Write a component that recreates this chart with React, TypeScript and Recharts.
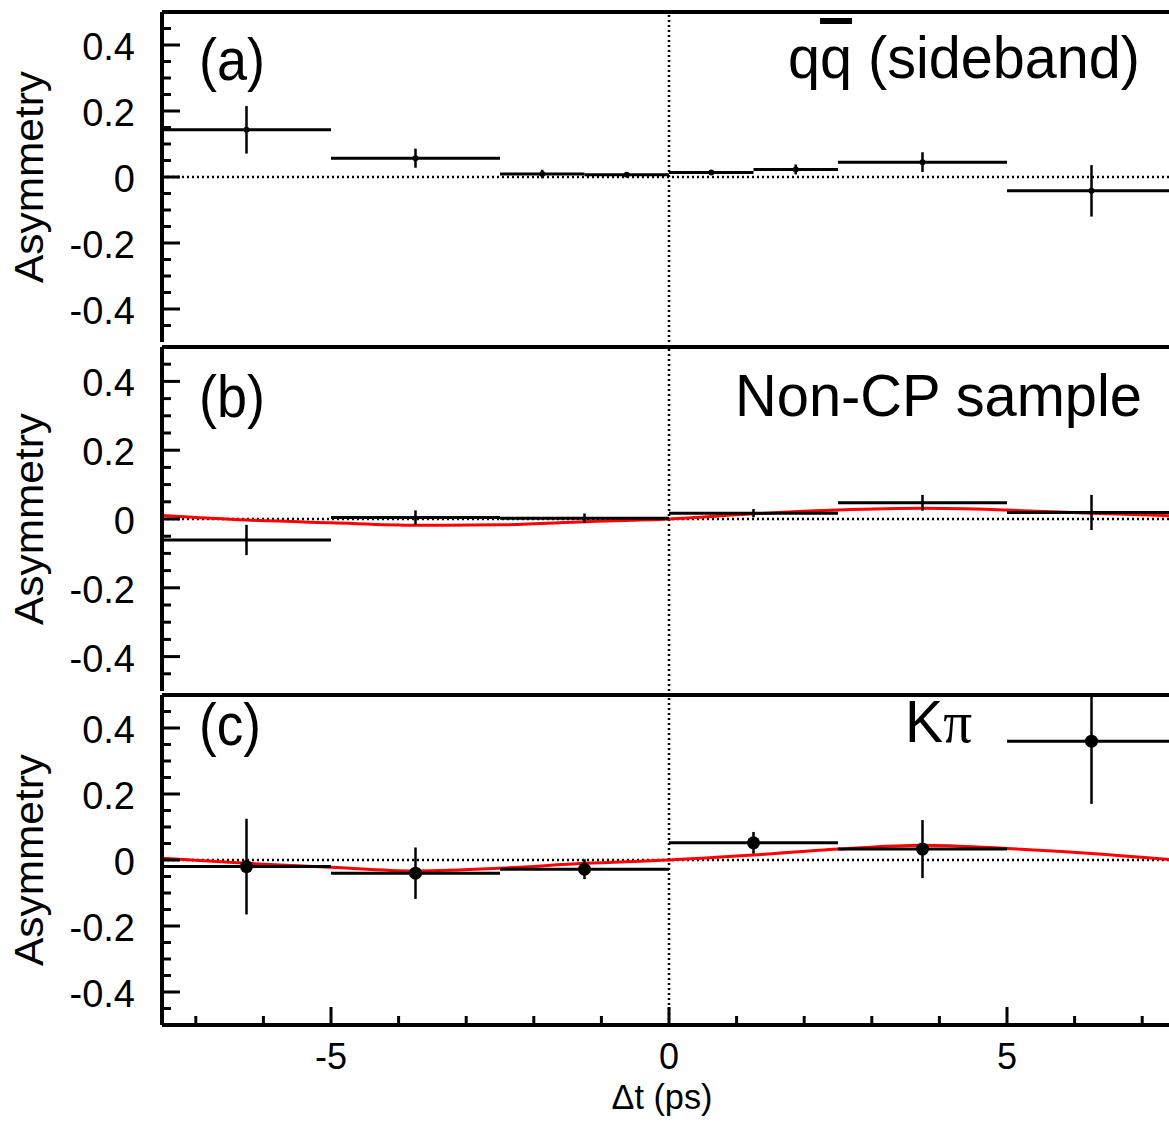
import { ComposedChart, Scatter, Line, XAxis, YAxis, ErrorBar, ReferenceLine, Customized } from "recharts"

const FONT = '"Liberation Sans", Arial, Helvetica, sans-serif'

// (a) qq-bar sideband: Δt bin centres, half widths, asymmetry, errors
const tA = [-6.25, -3.75, -1.875, -0.625, 0.625, 1.875, 3.75, 6.25]
const halfA = [1.25, 1.25, 0.625, 0.625, 0.625, 0.625, 1.25, 1.25]
const asymA = [0.143, 0.057, 0.009, 0.007, 0.014, 0.023, 0.045, -0.042]
const errA = [0.072, 0.029, 0.013, 0.006, 0.007, 0.015, 0.03, 0.078]

// (b) non-CP sample and (c) Kπ share the same binning
const tBC = [-6.25, -3.75, -1.25, 1.25, 3.75, 6.25]
const halfBC = [1.25, 1.25, 1.25, 1.25, 1.25, 1.25]
const asymB = [-0.061, 0.004, 0.002, 0.017, 0.047, 0.019]
const errB = [0.044, 0.021, 0.014, 0.012, 0.023, 0.051]
const asymC = [-0.02, -0.04, -0.028, 0.052, 0.033, 0.36]
const errC: (number | number[])[] = [0.145, 0.078, 0.03, 0.033, 0.088, [0.19, 0.14]]

// fitted curves (red)
const fitT = [-7.5, -6.25, -5, -3.75, -2.5, -1.25, 0, 1.25, 2.5, 3.75, 5, 6.25, 7.5]
const fitB = [0.01, -0.003, -0.011, -0.018, -0.017, -0.008, 0, 0.015, 0.026, 0.031, 0.026, 0.017, 0.009]
const fitC = [0.005, -0.01, -0.022, -0.033, -0.025, -0.01, 0, 0.015, 0.033, 0.045, 0.035, 0.02, 0]

const xTicks = [-7, -6, -5, -4, -3, -2, -1, 0, 1, 2, 3, 4, 5, 6, 7]
const xLabels = [-5, 0, 5]
const yTicks = [-0.45, -0.4, -0.35, -0.3, -0.25, -0.2, -0.15, -0.1, -0.05, 0, 0.05, 0.1, 0.15, 0.2, 0.25, 0.3, 0.35, 0.4, 0.45]
const yLabels = [-0.4, -0.2, 0, 0.2, 0.4]

const points = (t: number[], half: number[], y: number[], err: any[]) =>
  t.map((x, i) => ({ x, y: y[i], xerr: half[i], yerr: err[i] }))
const curve = (y: number[]) => fitT.map((x, i) => ({ x, y: y[i] }))

const W = 1180

function XTick(props: any) {
  const { x, y, payload, showLabel } = props
  const major = xLabels.includes(payload.value)
  return (
    <g>
      <line x1={x} y1={y} x2={x} y2={y - (major ? 18 : 9)} stroke="#000" strokeWidth={3} />
      {showLabel && major && (
        <text x={x} y={y + 44} textAnchor="middle" fontSize={36} fontFamily={FONT} fill="#000">
          {payload.value}
        </text>
      )}
    </g>
  )
}

function YTick(props: any) {
  const { x, y, payload } = props
  const major = yLabels.some((v) => Math.abs(v - payload.value) < 1e-6)
  const label = payload.value === 0 ? "0" : payload.value.toFixed(1)
  return (
    <g>
      <line x1={x} y1={y} x2={x + (major ? 18 : 9)} y2={y} stroke="#000" strokeWidth={3} />
      {major && (
        <text x={x - 27} y={y + 15} textAnchor="end" fontSize={38} fontFamily={FONT} fill="#000">
          {label}
        </text>
      )}
    </g>
  )
}

function Panel(props: any) {
  const { top, height, marginTop, xHeight, data, fit, dotR, showXLabels, children } = props
  return (
    <div style={{ position: "absolute", left: 0, top }}>
      <ComposedChart width={W} height={height} margin={{ top: marginTop, right: 4, bottom: 4, left: 0 }}>
        <XAxis
          type="number"
          dataKey="x"
          domain={[-7.5, 7.5]}
          allowDataOverflow
          ticks={xTicks}
          interval={0}
          tickSize={0}
          tickMargin={0}
          tickLine={false}
          tick={(p: any) => <XTick {...p} showLabel={showXLabels} />}
          axisLine={{ stroke: "#000", strokeWidth: 4 }}
          height={xHeight}
        />
        <YAxis
          type="number"
          dataKey="y"
          domain={[-0.5, 0.5]}
          allowDataOverflow
          ticks={yTicks}
          interval={0}
          tickSize={0}
          tickMargin={0}
          tickLine={false}
          tick={(p: any) => <YTick {...p} />}
          axisLine={{ stroke: "#000", strokeWidth: 4 }}
          width={162}
        />
        <ReferenceLine y={0.5} stroke="#000" strokeWidth={4} />
        <ReferenceLine y={0} stroke="#000" strokeWidth={2.5} strokeDasharray="2 3" />
        <ReferenceLine x={0} stroke="#000" strokeWidth={2.5} strokeDasharray="2 3" />
        {fit && (
          <Line
            data={fit}
            dataKey="y"
            type="monotone"
            stroke="#ff0000"
            strokeWidth={3}
            dot={false}
            activeDot={false}
            isAnimationActive={false}
          />
        )}
        <Scatter
          data={data}
          isAnimationActive={false}
          shape={(p: any) => <circle cx={p.cx} cy={p.cy} r={dotR} fill="#000" />}
        >
          <ErrorBar dataKey="xerr" direction="x" width={0} stroke="#000" strokeWidth={3} />
          <ErrorBar dataKey="yerr" direction="y" width={0} stroke="#000" strokeWidth={2.5} />
        </Scatter>
        <Customized component={<g>{children}</g>} />
      </ComposedChart>
    </div>
  )
}

function Asym({ cy }: { cy: number }) {
  return (
    <text
      x={43}
      y={cy}
      transform={`rotate(-90 43 ${cy})`}
      textAnchor="middle"
      fontSize={40}
      fontFamily={FONT}
      textLength={212}
      lengthAdjust="spacingAndGlyphs"
      fill="#000"
    >
      Asymmetry
    </text>
  )
}

function Big({ x, y, len, children }: any) {
  return (
    <text x={x} y={y} fontSize={60} fontFamily={FONT} textLength={len} lengthAdjust="spacingAndGlyphs" fill="#000">
      {children}
    </text>
  )
}

export default function App() {
  return (
    <div style={{ position: "absolute", left: 0, top: 0, width: 1169, height: 1134, overflow: "hidden", background: "#fff" }}>
      <Panel top={0} height={346} marginTop={12} xHeight={0} data={points(tA, halfA, asymA, errA)} dotR={3}>
        <Asym cy={177} />
        <Big x={199} y={80} len={66}>(a)</Big>
        <Big x={788} y={78} len={352}>
          q<tspan style={{ textDecoration: "overline" }}>q</tspan> (sideband)
        </Big>
      </Panel>
      <Panel top={340} height={355} marginTop={7} xHeight={0} data={points(tBC, halfBC, asymB, errB)} fit={curve(fitB)} dotR={1.5}>
        <Asym cy={179} />
        <Big x={199} y={77} len={66}>(b)</Big>
        <Big x={735} y={76} len={407}>Non-CP sample</Big>
      </Panel>
      <Panel
        top={688}
        height={441}
        marginTop={7}
        xHeight={100}
        data={points(tBC, halfBC, asymC, errC)}
        fit={curve(fitC)}
        dotR={6.5}
        showXLabels
      >
        <Asym cy={172} />
        <Big x={199} y={57} len={62}>(c)</Big>
        <Big x={905} y={54} len={67}>
          K<tspan fontFamily='"Liberation Serif", "DejaVu Serif", serif'>π</tspan>
        </Big>
        <text x={662} y={421} textAnchor="middle" fontSize={35} fontFamily={FONT} textLength={101} lengthAdjust="spacingAndGlyphs" fill="#000">
          Δt (ps)
        </text>
      </Panel>
    </div>
  )
}
